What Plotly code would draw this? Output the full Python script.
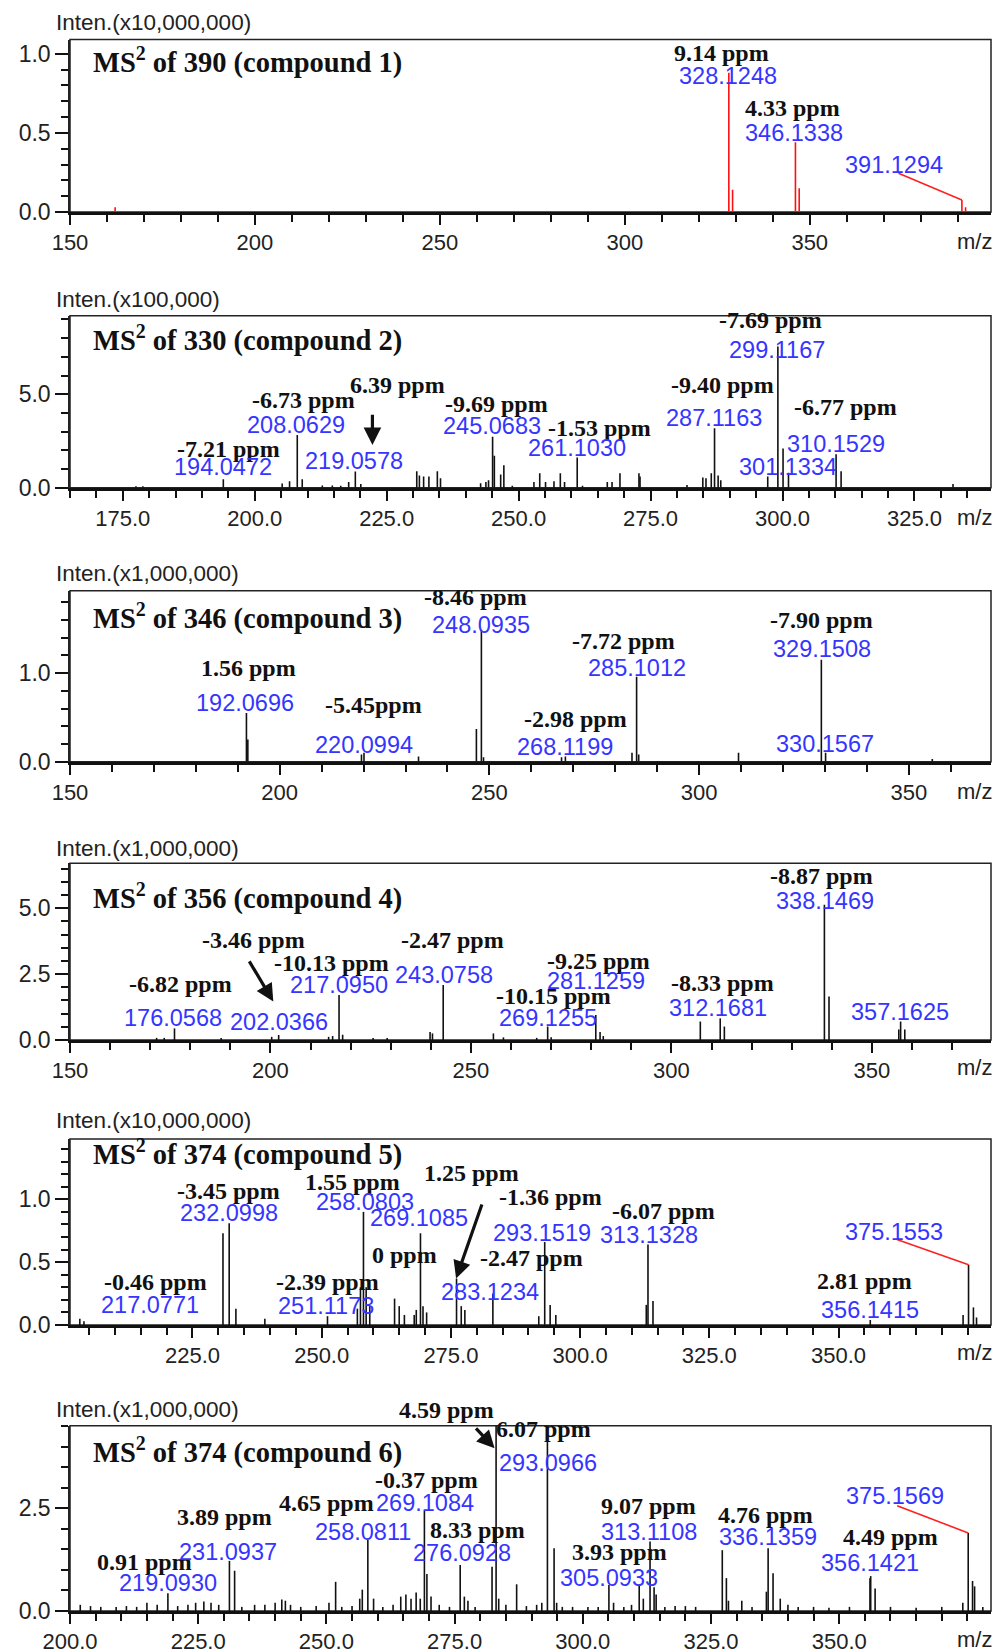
import plotly.graph_objects as go

W, H = 1006, 1652

# ======================= DATA =======================
# Panel 1 : MS2 of 390 (compound 1)  intensity x10,000,000
p1_mz  = [162.2, 328.12, 329.13, 346.13, 347.14, 391.13, 392.13]
p1_int = [0.03, 0.88, 0.14, 0.44, 0.15, 0.076, 0.03]
p1_ppm  = [("9.14 ppm", 326.2, 1.006), ("4.33 ppm", 345.2, 0.66)]
p1_mass = [("328.1248", 327.9, 0.86), ("346.1338", 345.7, 0.50), ("391.1294", 372.8, 0.30)]

# Panel 2 : MS2 of 330 (compound 2)  intensity x100,000
p2_mz  = [177.5, 178.8, 194.05, 205.2, 206.6, 208.06, 209.0, 212.8, 214.7, 216.3, 217.8,
          219.06, 220.1, 230.7, 231.2, 232.0, 233.0, 234.6, 235.2, 242.8, 243.8, 244.3,
          245.07, 245.4, 246.6, 247.2, 248.8, 252.9, 254.0, 255.1, 256.7, 257.9, 258.7,
          261.10, 262.1, 266.8, 267.7, 269.2, 272.8, 273.0, 281.9, 284.9, 285.5, 286.5,
          287.12, 287.8, 288.3, 297.2, 299.12, 300.1, 301.13, 310.15, 311.1, 332.3]
p2_int = [0.08, 0.08, 0.45, 0.23, 0.35, 2.82, 0.45, 0.12, 0.12, 0.1, 0.3,
          0.86, 0.2, 0.88, 0.65, 0.6, 0.6, 0.88, 0.5, 0.24, 0.3, 0.4,
          2.73, 1.71, 0.7, 1.2, 0.1, 0.3, 0.77, 0.3, 0.35, 0.77, 0.3,
          1.61, 0.1, 0.3, 0.3, 0.77, 0.77, 0.6, 0.15, 0.55, 0.5, 0.77,
          3.18, 0.65, 0.4, 0.6, 7.55, 2.1, 0.8, 1.79, 0.88, 0.2]
p2_ppm  = [("-7.21 ppm", 195.1, 2.06), ("-6.73 ppm", 209.3, 4.69), ("6.39 ppm", 227.0, 5.5),
           ("-9.69 ppm", 245.9, 4.45), ("-1.53 ppm", 265.4, 3.18), ("-9.40 ppm", 288.6, 5.5),
           ("-7.69 ppm", 297.8, 8.98), ("-6.77 ppm", 312.0, 4.34)]
p2_mass = [("194.0472", 194.0, 1.12), ("208.0629", 207.9, 3.36), ("219.0578", 218.8, 1.43),
           ("245.0683", 244.9, 3.32), ("261.1030", 261.1, 2.14), ("287.1163", 287.0, 3.75),
           ("299.1167", 298.9, 7.37), ("310.1529", 310.1, 2.32), ("301.1334", 301.0, 1.12)]

# Panel 3 : MS2 of 346 (compound 3)  intensity x1,000,000
p3_mz  = [192.07, 192.4, 219.5, 220.1, 233.1, 246.9, 248.09, 248.6, 267.2, 268.12,
          284.0, 285.10, 285.6, 309.4, 329.15, 330.16, 355.6]
p3_int = [0.55, 0.25, 0.08, 0.1, 0.06, 0.37, 1.49, 0.05, 0.05, 0.06,
          0.1, 0.96, 0.08, 0.1, 1.15, 0.1, 0.03]
p3_ppm  = [("1.56 ppm", 192.6, 1.06), ("-5.45ppm", 222.4, 0.64), ("-8.46 ppm", 246.7, 1.86),
           ("-7.72 ppm", 282.0, 1.36), ("-2.98 ppm", 270.5, 0.48), ("-7.90 ppm", 329.3, 1.6)]
p3_mass = [("192.0696", 191.8, 0.66), ("220.0994", 220.0, 0.19), ("248.0935", 248.0, 1.54),
           ("285.1012", 285.2, 1.06), ("268.1199", 268.1, 0.17), ("329.1508", 329.3, 1.27),
           ("330.1567", 329.9, 0.20)]

# Panel 4 : MS2 of 356 (compound 4)  intensity x1,000,000
p4_mz  = [171.6, 173.5, 176.06, 187.7, 200.3, 202.04, 214.5, 215.5, 217.10, 218.0,
          225.6, 229.1, 239.8, 240.4, 243.08, 255.6, 258.1, 266.4, 269.13, 270.0,
          281.13, 282.2, 283.0, 307.2, 312.17, 313.2, 338.15, 339.3, 356.7, 357.16, 358.2]
p4_int = [0.08, 0.08, 0.44, 0.08, 0.12, 0.19, 0.12, 0.15, 1.71, 0.2,
          0.08, 0.08, 0.3, 0.25, 2.09, 0.25, 0.1, 0.08, 0.51, 0.1,
          0.95, 0.3, 0.15, 0.7, 0.82, 0.51, 5.13, 1.65, 0.4, 0.7, 0.4]
p4_ppm  = [("-6.82 ppm", 177.5, 2.12), ("-3.46 ppm", 195.7, 3.8), ("-10.13 ppm", 215.3, 2.92),
           ("-2.47 ppm", 245.3, 3.8), ("-9.25 ppm", 281.8, 2.98), ("-10.15 ppm", 270.5, 1.65),
           ("-8.33 ppm", 312.7, 2.18), ("-8.87 ppm", 337.5, 6.21)]
p4_mass = [("176.0568", 175.8, 0.85), ("202.0366", 202.0, 0.70), ("217.0950", 217.0, 2.09),
           ("243.0758", 243.2, 2.47), ("281.1259", 281.3, 2.25), ("269.1255", 269.2, 0.85),
           ("312.1681", 311.7, 1.20), ("338.1469", 338.3, 5.26), ("357.1625", 357.1, 1.08)]

# Panel 5 : MS2 of 374 (compound 5)  intensity x10,000,000
p5_mz  = [203.2, 204.0, 230.9, 232.10, 233.4, 239.0, 251.12, 256.9, 257.5, 258.08, 258.6,
          259.3, 264.1, 265.0, 266.0, 267.9, 268.3, 269.11, 269.6, 270.3, 276.09, 277.0,
          277.7, 283.12, 292.0, 293.15, 294.2, 295.3, 312.8, 313.13, 314.1, 356.14,
          374.1, 375.155, 376.1, 376.7]
p5_int = [0.05, 0.03, 0.73, 0.81, 0.13, 0.05, 0.07, 0.13, 0.3, 0.9, 0.3,
          0.15, 0.21, 0.15, 0.08, 0.08, 0.12, 0.73, 0.15, 0.1, 0.37, 0.15,
          0.12, 0.25, 0.07, 0.66, 0.16, 0.08, 0.16, 0.64, 0.19, 0.04,
          0.08, 0.48, 0.14, 0.06]
p5_ppm  = [("-0.46 ppm", 217.8, 0.34), ("-3.45 ppm", 231.9, 1.07), ("1.55 ppm", 256.0, 1.14),
           ("-2.39 ppm", 251.2, 0.34), ("0 ppm", 266.1, 0.56), ("1.25 ppm", 279.0, 1.21),
           ("-1.36 ppm", 294.2, 1.02), ("-2.47 ppm", 290.6, 0.53), ("-6.07 ppm", 316.2, 0.91),
           ("2.81 ppm", 355.1, 0.35)]
p5_mass = [("217.0771", 216.7, 0.16), ("232.0998", 232.1, 0.89), ("258.0803", 258.3, 0.98),
           ("269.1085", 268.9, 0.85), ("251.1173", 250.9, 0.15), ("293.1519", 292.7, 0.73),
           ("283.1234", 282.6, 0.26), ("313.1328", 313.3, 0.72), ("375.1553", 360.8, 0.74),
           ("356.1415", 356.1, 0.12)]

# Panel 6 : MS2 of 374 (compound 6)  intensity x1,000,000
p6_mz  = [202, 204, 206, 209, 211, 213, 215, 217, 219.09, 221, 223, 224.5, 226.1, 227.5,
          229, 231.09, 232.1, 233.5, 236, 238, 240, 241.3, 242, 243, 245, 248, 250.5,
          251.8, 253, 255, 256.5, 257.0, 258.08, 259.2, 261, 263, 264.5, 265.5, 266.5,
          267.5, 268.3, 269.11, 269.6, 270.4, 272, 274, 276.09, 276.9, 277.6, 279, 282.3,
          283.09, 283.6, 285, 287.1, 289, 291, 292, 293.10, 294.4, 294.9, 296, 298, 301,
          303, 305.09, 306, 308, 309.5, 311.0, 311.8, 313.11, 313.9, 314.3, 316, 318, 320,
          322, 327.2, 328.0, 328.4, 331, 333, 335.8, 336.14, 337.1, 338.5, 340, 342, 345,
          348, 352, 356.0, 356.14, 357.0, 360, 365, 370, 374.1, 375.157, 376.0, 376.4, 378]
p6_int = [0.15, 0.12, 0.1, 0.1, 0.12, 0.1, 0.2, 0.15, 0.43, 0.12, 0.15, 0.2, 0.23, 0.2,
          0.15, 1.22, 0.98, 0.1, 0.15, 0.15, 0.2, 0.28, 0.25, 0.15, 0.1, 0.12, 0.2,
          0.71, 0.1, 0.12, 0.3, 0.52, 1.73, 0.3, 0.1, 0.15, 0.35, 0.4, 0.3,
          0.45, 0.3, 2.44, 0.9, 0.35, 0.15, 0.1, 1.12, 0.35, 0.25, 0.1, 1.08,
          4.6, 0.3, 0.15, 0.65, 0.12, 0.15, 0.2, 4.12, 1.53, 0.2, 0.1, 0.1, 0.1,
          0.1, 0.63, 0.2, 0.1, 0.15, 0.63, 0.3, 1.69, 0.58, 0.4, 0.1, 0.12, 0.12,
          0.1, 1.48, 0.8, 0.25, 0.25, 0.1, 0.47, 1.53, 0.92, 0.3, 0.15, 0.1, 0.1,
          0.08, 0.1, 0.8, 0.85, 0.55, 0.1, 0.08, 0.1, 0.2, 1.9, 0.73, 0.6, 0.1]
p6_ppm  = [("0.91 ppm", 214.6, 1.2), ("3.89 ppm", 230.2, 2.29), ("4.65 ppm", 250.1, 2.64),
           ("-0.37 ppm", 269.5, 3.19), ("8.33 ppm", 279.5, 1.96), ("4.59 ppm", 273.4, 4.89),
           ("6.07 ppm", 292.3, 4.44), ("9.07 ppm", 312.9, 2.55), ("3.93 ppm", 307.1, 1.44),
           ("4.76 ppm", 335.6, 2.34), ("4.49 ppm", 360.0, 1.81)]
p6_mass = [("219.0930", 219.2, 0.67), ("231.0937", 230.8, 1.44), ("258.0811", 257.1, 1.93),
           ("269.1084", 269.2, 2.64), ("276.0928", 276.5, 1.42), ("293.0966", 293.3, 3.61),
           ("313.1108", 312.9, 1.93), ("305.0933", 305.1, 0.80), ("336.1359", 336.2, 1.81),
           ("356.1421", 356.1, 1.16), ("375.1569", 360.8, 2.80)]

titles = ["MS<sup>2</sup> of 390 (compound 1)", "MS<sup>2</sup> of 330 (compound 2)",
          "MS<sup>2</sup> of 346 (compound 3)", "MS<sup>2</sup> of 356 (compound 4)",
          "MS<sup>2</sup> of 374 (compound 5)", "MS<sup>2</sup> of 374 (compound 6)"]
inten_labels = ["Inten.(x10,000,000)", "Inten.(x100,000)", "Inten.(x1,000,000)",
                "Inten.(x1,000,000)", "Inten.(x10,000,000)", "Inten.(x1,000,000)"]

x_tickvals = [[150, 200, 250, 300, 350], [175, 200, 225, 250, 275, 300, 325],
              [150, 200, 250, 300, 350], [150, 200, 250, 300, 350],
              [225, 250, 275, 300, 325, 350], [200, 225, 250, 275, 300, 325, 350]]
x_fmt = ["{:.0f}", "{:.1f}", "{:.0f}", "{:.0f}", "{:.1f}", "{:.1f}"]
y_tickvals = [[0, 0.5, 1.0], [0, 5.0], [0, 1.0], [0, 2.5, 5.0], [0, 0.5, 1.0], [0, 2.5]]

# ======================= LAYOUT PARAMETERS =======================
x_ranges = [[150, 399], [165, 339.5], [150, 369.6], [150, 379.7], [201.3, 379.5], [200, 379.6]]
y_ranges = [[0, 1.09], [0, 9.2], [0, 1.93], [0, 6.7], [0, 1.48], [0, 4.51]]
x_minor = [10, 5, 10, 10, 5, 5]
y_minor = [0.1, 1.0, 0.2, 0.5, 0.1, 0.5]
panel_px = [(39.5, 212), (315.7, 487.7), (590.7, 761.7), (863.3, 1040), (1139, 1325), (1425.7, 1611)]
title_y = [61, 339, 617, 896.5, 1152.5, 1450.6]
inten_y = [22, 299, 574, 848, 1120, 1409]
mz_y = [241, 517, 791, 1067, 1352.6, 1639]
X0, X1 = 70, 991

peaks = [(p1_mz, p1_int), (p2_mz, p2_int), (p3_mz, p3_int),
         (p4_mz, p4_int), (p5_mz, p5_int), (p6_mz, p6_int)]
ppm_labels = [p1_ppm, p2_ppm, p3_ppm, p4_ppm, p5_ppm, p6_ppm]
mass_labels = [p1_mass, p2_mass, p3_mass, p4_mass, p5_mass, p6_mass]
peak_colors = ["#ff1010", "#111111", "#111111", "#111111", "#111111", "#111111"]

# arrows (panel index, tail x, tail y, tip x, tip y)
arrows = [(1, 222.3, 3.98, 222.3, 2.28), (3, 194.5, 3.04, 200.7, 1.46),
          (4, 281.1, 0.97, 276.0, 0.37), (5, 278.9, 4.48, 282.8, 3.96)]
# red connector lines: (panel, label x, label y, precursor peak m/z)
connectors = [(0, 374.0, 0.245, 391.13), (4, 361.3, 0.68, 375.155), (5, 361.3, 2.56, 375.157)]


def px(x):
    return x / W


def py(y):
    return 1 - y / H


BLUE = "#3535ff"
SANS = "Liberation Sans, Arial, sans-serif"
SERIF = "Liberation Serif, Times New Roman, serif"

fig = go.Figure()
layout = dict(width=W, height=H, margin=dict(l=0, r=0, t=0, b=0, autoexpand=False),
              paper_bgcolor="white", plot_bgcolor="white", showlegend=False)
annotations, shapes = [], []


def yref_for(i, n, y):
    """Return (yref, y) so labels above the axis range are still drawn."""
    r0, r1 = y_ranges[i]
    if y <= r1:
        return "y" + n, y
    top, bot = panel_px[i]
    d0, d1 = py(bot), py(top)
    return "paper", d0 + (y - r0) / (r1 - r0) * (d1 - d0)


for i in range(6):
    n = "" if i == 0 else str(i + 1)
    xa, ya = "x" + n, "y" + n
    mz, inten = peaks[i]
    xs, ys = [], []
    for m, v in zip(mz, inten):
        xs += [m, m, None]
        ys += [0, v, None]
    fig.add_trace(go.Scatter(x=xs, y=ys, mode="lines", xaxis=xa, yaxis=ya,
                             line=dict(color=peak_colors[i], width=1.6), hoverinfo="skip"))
    top, bot = panel_px[i]
    layout["xaxis" + n] = dict(
        domain=[px(X0), px(X1)], range=x_ranges[i], anchor=ya, automargin=False,
        tickmode="array", tickvals=x_tickvals[i],
        ticktext=[x_fmt[i].format(v) for v in x_tickvals[i]],
        ticks="outside", ticklen=10, tickwidth=1.5, tickcolor="#111",
        minor=dict(ticks="outside", tickmode="linear", tick0=0, dtick=x_minor[i],
                   ticklen=7, tickwidth=1.5, tickcolor="#111"),
        showline=True, linecolor="#111", linewidth=3, showgrid=False, zeroline=False,
        tickfont=dict(family=SANS, size=22, color="#222"), ticklabelstandoff=-1)
    layout["yaxis" + n] = dict(
        domain=[py(bot), py(top)], range=y_ranges[i], anchor=xa, automargin=False,
        tickmode="array", tickvals=y_tickvals[i],
        ticktext=["{:.1f}".format(v) for v in y_tickvals[i]],
        ticks="outside", ticklen=13, tickwidth=1.5, tickcolor="#111",
        minor=dict(ticks="outside", tickmode="linear", tick0=0, dtick=y_minor[i],
                   ticklen=7, tickwidth=1.5, tickcolor="#111"),
        showline=True, linecolor="#222", linewidth=1.5, showgrid=False, zeroline=False,
        tickfont=dict(family=SANS, size=23, color="#222"))
    # box frame
    shapes.append(dict(type="rect", xref=xa + " domain", yref=ya + " domain",
                       x0=0, x1=1, y0=0, y1=1, line=dict(color="#222", width=1.5),
                       layer="below"))
    # titles and axis captions
    annotations.append(dict(text="<b>" + titles[i] + "</b>", xref="paper", yref="paper",
                            x=px(91), y=py(title_y[i]), xanchor="left", yanchor="middle",
                            showarrow=False, font=dict(family=SERIF, size=28.5, color="#111")))
    annotations.append(dict(text=inten_labels[i], xref="paper", yref="paper",
                            x=px(54), y=py(inten_y[i]), xanchor="left", yanchor="middle",
                            showarrow=False, font=dict(family=SANS, size=22.5, color="#222")))
    annotations.append(dict(text="m/z", xref="paper", yref="paper",
                            x=px(974), y=py(mz_y[i]), xanchor="center", yanchor="middle",
                            showarrow=False, font=dict(family=SANS, size=22, color="#222")))
    for t, x, y in ppm_labels[i]:
        yr, yy = yref_for(i, n, y)
        annotations.append(dict(text="<b>" + t + "</b>", xref=xa, yref=yr, x=x, y=yy,
                                xanchor="center", yanchor="middle", showarrow=False,
                                font=dict(family=SERIF, size=24, color="#111")))
    for t, x, y in mass_labels[i]:
        yr, yy = yref_for(i, n, y)
        annotations.append(dict(text=t, xref=xa, yref=yr, x=x, y=yy,
                                xanchor="center", yanchor="middle", showarrow=False,
                                font=dict(family=SANS, size=23.5, color=BLUE)))

for (i, tx, ty, hx, hy) in arrows:
    n = "" if i == 0 else str(i + 1)
    annotations.append(dict(text="", xref="x" + n, yref="y" + n, x=hx, y=hy,
                            axref="x" + n, ayref="y" + n, ax=tx, ay=ty,
                            showarrow=True, arrowhead=2, arrowsize=1.1, arrowwidth=3.2,
                            arrowcolor="#111"))

for (i, lx, ly, target) in connectors:
    n = "" if i == 0 else str(i + 1)
    mz, inten = peaks[i]
    k = min(range(len(mz)), key=lambda j: abs(mz[j] - target))
    shapes.append(dict(type="line", xref="x" + n, yref="y" + n, x0=lx, y0=ly,
                       x1=mz[k], y1=inten[k], line=dict(color="#ff2020", width=1.6)))

layout["annotations"] = annotations
layout["shapes"] = shapes
fig.update_layout(**layout)
fig.write_html("out.html")
